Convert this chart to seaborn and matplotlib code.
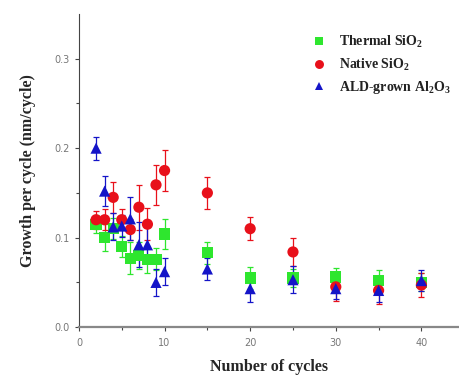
import numpy as np
import pandas as pd
import matplotlib
matplotlib.use("Agg")
import matplotlib.pyplot as plt
import seaborn as sns

# Values
cycles = [2, 3, 4, 5, 6, 7, 8, 9, 10, 15, 20, 25, 30, 35, 40]
thermal = [0.115, 0.100, 0.110, 0.090, 0.077, 0.080, 0.076, 0.076, 0.104, 0.083, 0.055, 0.055, 0.056, 0.052, 0.050]
thermal_err = [0.010, 0.015, 0.012, 0.012, 0.018, 0.015, 0.015, 0.012, 0.017, 0.012, 0.012, 0.010, 0.010, 0.012, 0.010]
native = [0.120, 0.120, 0.145, 0.120, 0.109, 0.134, 0.115, 0.159, 0.175, 0.150, 0.110, 0.084, 0.045, 0.041, 0.047]
native_err = [0.010, 0.012, 0.017, 0.012, 0.012, 0.025, 0.018, 0.022, 0.023, 0.018, 0.013, 0.016, 0.016, 0.015, 0.013]
ald = [0.200, 0.152, 0.112, 0.113, 0.121, 0.092, 0.092, 0.050, 0.062, 0.065, 0.043, 0.053, 0.043, 0.041, 0.052]
ald_err = [0.013, 0.017, 0.015, 0.012, 0.024, 0.025, 0.020, 0.015, 0.015, 0.012, 0.015, 0.015, 0.012, 0.013, 0.012]

labels = ["Thermal SiO$_2$", "Native SiO$_2$", "ALD-grown Al$_2$O$_3$"]
colors = ["#2ee62e", "#e8101a", "#1414c8"]
markers = ["s", "o", "^"]

df = pd.concat([
    pd.DataFrame({"cycles": cycles, "gpc": thermal, "err": thermal_err, "sample": labels[0]}),
    pd.DataFrame({"cycles": cycles, "gpc": native, "err": native_err, "sample": labels[1]}),
    pd.DataFrame({"cycles": cycles, "gpc": ald, "err": ald_err, "sample": labels[2]}),
])

sns.set_style("ticks")
plt.rcParams["mathtext.default"] = "regular"

fig = plt.figure(figsize=(4.59, 3.76), dpi=100)
ax = fig.add_axes([0.172, 0.13, 0.83, 0.833])

for lab, col in zip(labels, colors):
    d = df[df["sample"] == lab]
    ax.errorbar(d["cycles"], d["gpc"], yerr=d["err"], fmt="none",
                ecolor=col, elinewidth=0.9, capsize=2.5, capthick=0.9, zorder=2)

sns.scatterplot(data=df, x="cycles", y="gpc", hue="sample", style="sample",
                palette=dict(zip(labels, colors)), markers=dict(zip(labels, markers)),
                s=65, edgecolor="none", linewidth=0, ax=ax, zorder=3)

ax.set_xlim(0, 44.5)
ax.set_ylim(0, 0.35)
ax.set_xticks([0, 10, 20, 30, 40])
ax.set_xticks([5, 15, 25, 35], minor=True)
ax.set_yticks([0.0, 0.1, 0.2, 0.3])
ax.set_yticks([0.05, 0.15, 0.25], minor=True)
ax.set_yticklabels(["0.0", "0.1", "0.2", "0.3"])
ax.tick_params(axis="both", which="major", labelsize=7, labelcolor="#777777",
               length=3, width=0.8, color="#444444")
ax.tick_params(axis="x", which="major", pad=5)
ax.tick_params(axis="both", which="minor", length=2, width=0.8, color="#444444")

sns.despine(ax=ax)
ax.spines["left"].set_color("#444444")
ax.spines["bottom"].set_color("#888888")
ax.spines["bottom"].set_linewidth(1.6)

ax.set_xlabel("Number of cycles", fontfamily="Liberation Serif",
              fontweight="bold", fontsize=11.5, labelpad=8)
ax.set_ylabel("Growth per cycle (nm/cycle)", fontfamily="Liberation Serif",
              fontweight="bold", fontsize=11.5, labelpad=13)

leg = ax.legend(loc="upper right", bbox_to_anchor=(1.01, 0.975), frameon=False,
                prop={"family": "Liberation Serif", "weight": "bold", "size": 10},
                handletextpad=0.5, labelspacing=0.45, markerscale=0.8)
for t in leg.get_texts():
    t.set_color("#222222")

fig.savefig("out.png", dpi=100)
